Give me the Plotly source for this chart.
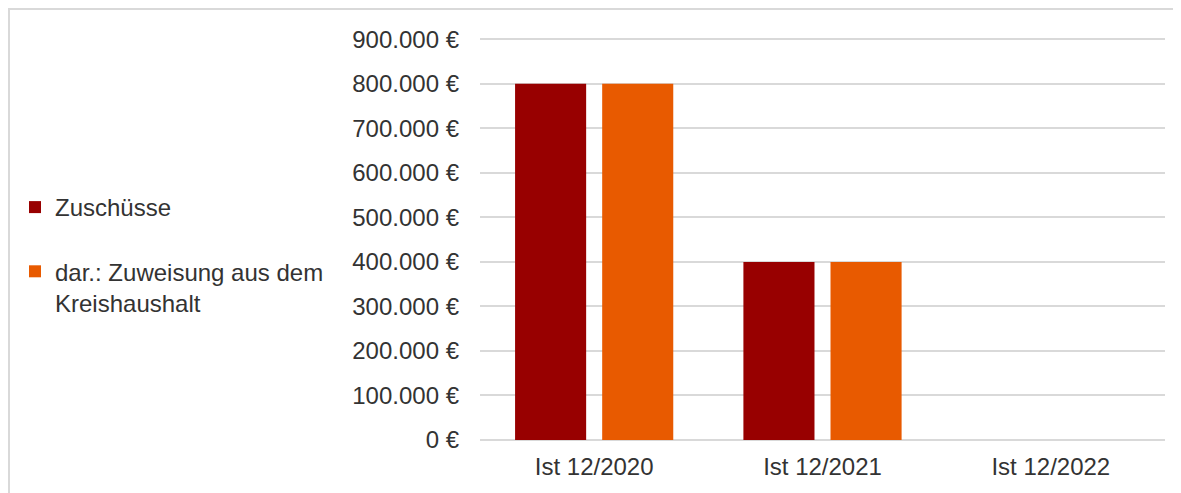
import plotly.graph_objects as go

categories = ["Ist 12/2020", "Ist 12/2021", "Ist 12/2022"]
zuschuesse = [800000, 400000, 0]
zuweisung = [800000, 400000, 0]
tick_vals = [0, 100000, 200000, 300000, 400000, 500000, 600000, 700000, 800000, 900000]
tick_text = [f"{v:,}".replace(",", ".") + " €" for v in tick_vals]

# page body has an 8px margin, so the figure is drawn 8px smaller
W, H = 1173, 485
L, R, T, B = 472, 16, 29, 53
FONT = "Liberation Sans, Arial, sans-serif"
TXT = "#333333"
YMAX = 905000

fig = go.Figure()
fig.add_trace(go.Bar(name="Zuschüsse", x=categories, y=zuschuesse,
                     marker=dict(color="#980000", line=dict(width=0)),
                     legendgroup="a"))
fig.add_trace(go.Bar(name="dar.: Zuweisung aus dem<br>Kreishaushalt", x=categories, y=zuweisung,
                     marker=dict(color="#E85A00", line=dict(width=0)),
                     legendgroup="b"))

pw = W - L - R
ph = H - T - B
fig.add_shape(type="rect", xref="paper", yref="paper",
              x0=(1 - L) / pw, x1=(W + 10 - L) / pw,
              y0=(H - B - (H + 10)) / ph, y1=(H - B - 1) / ph,
              line=dict(color="#D9D9D9", width=2), fillcolor="rgba(0,0,0,0)", layer="below")

fig.update_layout(
    width=W, height=H,
    margin=dict(l=L, r=R, t=T, b=B),
    paper_bgcolor="white", plot_bgcolor="white",
    font=dict(family=FONT, size=24, color=TXT),
    barmode="group", bargap=0.237, bargroupgap=0.184,
    showlegend=True,
    legend=dict(xref="container", yref="container", x=7 / W, xanchor="left",
                y=1 - 177 / H, yanchor="top", traceorder="grouped", tracegroupgap=30,
                valign="top", font=dict(size=24, color=TXT), bgcolor="rgba(0,0,0,0)"),
    xaxis=dict(showline=False, showgrid=False, ticks="", ticklabelstandoff=10,
               tickfont=dict(size=24, color=TXT)),
    yaxis=dict(range=[0, YMAX], tickvals=tick_vals, ticktext=tick_text,
               showgrid=True, gridcolor="#D9D9D9", gridwidth=2, zeroline=True,
               zerolinecolor="#D9D9D9", zerolinewidth=2, showline=False, ticks="",
               ticklabelstandoff=20, tickfont=dict(size=24, color=TXT)),
)

fig.write_html("out.html")
